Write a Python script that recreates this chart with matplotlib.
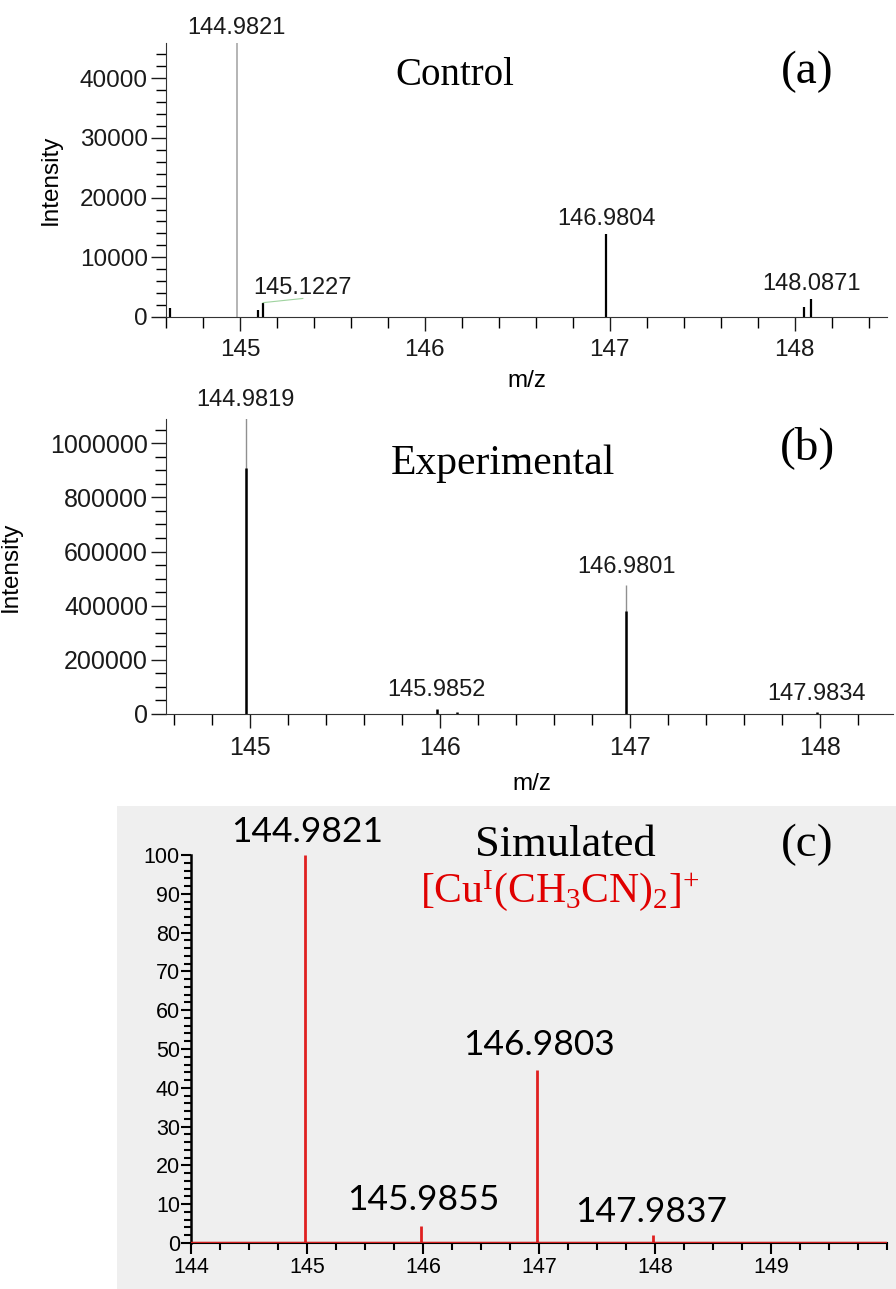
import numpy as np
import matplotlib.pyplot as plt
from matplotlib.ticker import MultipleLocator
from matplotlib.patches import Rectangle

plt.rcParams['font.family'] = ['Liberation Sans', 'DejaVu Sans']

# (a) control spectrum
a_mz_main = [144.9821]
a_int_main = [46500]
a_mz = [144.62, 145.10, 145.1227, 146.9804, 148.05, 148.0871]
a_int = [1500, 1200, 2300, 13900, 1700, 3000]
a_labels = ["144.9821", "145.1227", "146.9804", "148.0871"]

# (b) experimental spectrum
b_mz_profile = [144.9819, 146.9801]
b_int_profile = [1095000, 476000]
b_mz = [144.9819, 145.9852, 146.09, 146.9801, 147.9834]
b_int = [908000, 18000, 9000, 380000, 9000]
b_labels = ["144.9819", "145.9852", "146.9801", "147.9834"]

# (c) simulated isotope pattern
c_mz = [144.9821, 145.9855, 146.9803, 147.9837]
c_int = [100, 4.4, 44.6, 2.0]
c_labels = ["144.9821", "145.9855", "146.9803", "147.9837"]

serif = 'Liberation Serif'
dark = '#1a1a1a'

fig = plt.figure(figsize=(8.96, 12.89), dpi=100)
fig.patches.append(Rectangle((0.1306, 0), 0.8694, 0.3747, transform=fig.transFigure,
                             facecolor='#efefef', edgecolor='none', zorder=-5))

# ---------- panel (a) ----------
ax1 = fig.add_axes([0.1853, 0.7541, 0.8047, 0.2125])
ax1.vlines(a_mz_main, 0, a_int_main, color='#a8a8a8', lw=1.2)
ax1.vlines(a_mz, 0, a_int, color='black', lw=1.6)
ax1.set_xlim(144.6, 148.5)
ax1.set_ylim(0, 45900)
ax1.xaxis.set_major_locator(MultipleLocator(1))
ax1.xaxis.set_minor_locator(MultipleLocator(0.2))
ax1.yaxis.set_major_locator(MultipleLocator(10000))
ax1.yaxis.set_minor_locator(MultipleLocator(2000))
a_pos = [(144.98, 48500), (145.34, 4850), (146.985, 16400), (148.09, 5500)]
for (x, y), t in zip(a_pos, a_labels):
    ax1.text(x, y, t, ha='center', va='center', fontsize=17, color=dark, clip_on=False)
ax1.plot([145.125, 145.34], [2400, 3100], color='#9fd39f', lw=0.8)
ax1.set_xlabel('m/z', fontsize=17.5)
ax1.set_ylabel('Intensity', fontsize=17.5)
ax1.xaxis.set_label_coords(0.5, -0.195)
ax1.yaxis.set_label_coords(-0.144, 0.5)
ax1.tick_params(axis='y', which='major', length=11, width=1, pad=2, labelsize=17.5, colors=dark)
ax1.tick_params(axis='y', which='minor', length=7, width=1)
ax1.tick_params(axis='x', which='major', length=10, width=1, pad=6, labelsize=17.5, colors=dark)
ax1.tick_params(axis='x', which='minor', length=8, width=1)
fig.text(0.508, 0.9418, 'Control', ha='center', va='center', fontsize=28, family=serif)
fig.text(0.9007, 0.944, '(a)', ha='center', va='center', fontsize=34, family=serif)

# ---------- panel (b) ----------
ax2 = fig.add_axes([0.1853, 0.4461, 0.811, 0.2289])
ax2.vlines(b_mz_profile, 0, b_int_profile, color='#909090', lw=1.0)
ax2.vlines(b_mz, 0, b_int, color='black', lw=1.8)
ax2.set_xlim(144.56, 148.38)
ax2.set_ylim(0, 1090000)
ax2.ticklabel_format(axis='y', style='plain', useOffset=False)
ax2.xaxis.set_major_locator(MultipleLocator(1))
ax2.xaxis.set_minor_locator(MultipleLocator(0.2))
ax2.yaxis.set_major_locator(MultipleLocator(200000))
ax2.yaxis.set_minor_locator(MultipleLocator(50000))
b_pos = [(144.98, 1159000), (145.98, 88600), (146.98, 542000), (147.98, 74000)]
for (x, y), t in zip(b_pos, b_labels):
    ax2.text(x, y, t, ha='center', va='center', fontsize=17, color=dark, clip_on=False)
ax2.set_xlabel('m/z', fontsize=17.5)
ax2.set_ylabel('Intensity', fontsize=17.5)
ax2.xaxis.set_label_coords(0.503, -0.2)
ax2.yaxis.set_label_coords(-0.198, 0.5)
ax2.tick_params(axis='y', which='major', length=11, width=1, pad=2, labelsize=18, colors=dark)
ax2.tick_params(axis='y', which='minor', length=8, width=1)
ax2.tick_params(axis='x', which='major', length=10, width=1, pad=6, labelsize=18, colors=dark)
ax2.tick_params(axis='x', which='minor', length=8, width=1)
fig.text(0.561, 0.640, 'Experimental', ha='center', va='center', fontsize=30, family=serif)
fig.text(0.9007, 0.6524, '(b)', ha='center', va='center', fontsize=34, family=serif)

for ax in (ax1, ax2):
    for s in ('top', 'right'):
        ax.spines[s].set_visible(False)
    ax.spines['left'].set_color('#333333')
    ax.spines['bottom'].set_color('#333333')
    ax.patch.set_alpha(0)

# ---------- panel (c) ----------
ax3 = fig.add_axes([0.2132, 0.0357, 0.7768, 0.3010])
ax3.patch.set_alpha(0)
ax3.vlines(c_mz, 0, c_int, color='#e02020', lw=2)
ax3.axhline(0, color='#d42020', lw=2.5, zorder=3)
ax3.set_xlim(144, 150)
ax3.set_ylim(0, 100)
ax3.set_xticks([144, 145, 146, 147, 148, 149])
ax3.xaxis.set_minor_locator(MultipleLocator(0.25))
ax3.yaxis.set_major_locator(MultipleLocator(10))
ax3.yaxis.set_minor_locator(MultipleLocator(2))
for s in ('top', 'right'):
    ax3.spines[s].set_visible(False)
ax3.spines['left'].set_linewidth(1.8)
ax3.spines['bottom'].set_linewidth(1.5)
ax3.tick_params(axis='y', which='major', length=7, width=1.5, pad=1, labelsize=15.5)
ax3.tick_params(axis='y', which='minor', length=5, width=1.5)
ax3.tick_params(axis='x', which='major', length=8, width=1.5, pad=2, labelsize=15.5)
ax3.tick_params(axis='x', which='minor', length=5, width=1.5)
c_pos = [(145.0, 105.9), (146.0, 11.1), (147.0, 51.0), (147.97, 8.0)]
for (x, y), t in zip(c_pos, c_labels):
    ax3.text(x, y, t, ha='center', va='center', fontsize=25.5, family='Lato', clip_on=False)
fig.text(0.6306, 0.3445, 'Simulated', ha='center', va='center', fontsize=32, family=serif)
fig.text(0.625, 0.3095, r'$\mathregular{[Cu^{I}(CH_3CN)_2]^{+}}$', ha='center', va='center',
         fontsize=30, family=serif, color='#e00000')
fig.text(0.9007, 0.3445, '(c)', ha='center', va='center', fontsize=34, family=serif)

fig.savefig('out.png', dpi=100)
